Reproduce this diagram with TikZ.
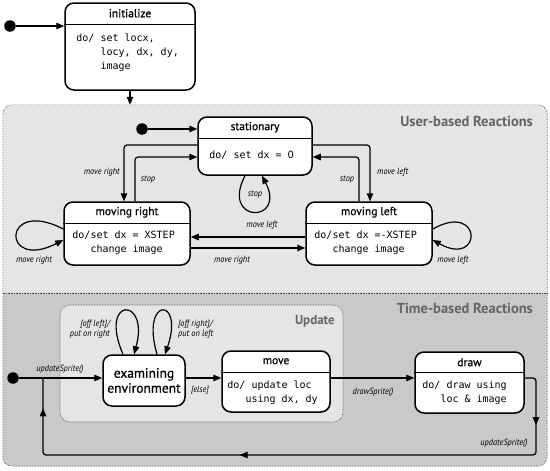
\documentclass[tikz,border=0pt]{standalone}
\usepackage{fontspec}
\setmainfont{PT Sans}
\setmonofont{DejaVu Sans Mono}
\newfontfamily\labelfont{PT Sans}[FakeStretch=0.92]
\newfontfamily\titlefont{PT Sans}[FakeBold=0.8]
\newfontfamily\zerofont{DejaVu Sans}
\usetikzlibrary{calc, positioning, arrows.meta, decorations.markings}
\definecolor{userbg}{RGB}{229,229,229}
\definecolor{timebg}{RGB}{201,201,201}
\definecolor{regiontext}{RGB}{100,100,100}

\begin{document}
\begin{tikzpicture}[x=1pt, y=-1pt,
  statebox/.style={draw, line width=1.5pt, rounded corners=9pt, fill=white, inner sep=0pt},
  stitle/.style={font=\titlefont\fontsize{11.5}{13}\selectfont, inner sep=0pt},
  sbody/.style={font=\ttfamily\fontsize{10}{14}\selectfont, align=left,
    inner sep=0pt, anchor=north west},
  lbl/.style={font=\labelfont\itshape\fontsize{9}{10.5}\selectfont, inner sep=0pt},
  regtitle/.style={font=\bfseries\fontsize{14.5}{16}\selectfont, text=regiontext,
    anchor=east, inner sep=0pt},
  arr/.style={-{Triangle[length=8pt,width=6.5pt]}, line width=1.2pt, rounded corners=3pt},
  divline/.style={line width=1.1pt},
  initdot/.style={circle, fill, inner sep=0pt, minimum size=11.5pt},
  regionline/.style={densely dotted, line width=0.6pt, black!75},
]
\useasboundingbox (0,0) rectangle (550,471);

% composite state with two regions
\node[inner sep=0pt, minimum width=544pt, minimum height=361pt] (comp) at (275,285.5) {};
\begin{scope}
  \clip[rounded corners=9pt] (comp.north west) rectangle (comp.south east);
  \fill[userbg] (comp.north west) rectangle (comp.east |- 0,293);
  \fill[timebg] (comp.west |- 0,293) rectangle (comp.south east);
\end{scope}
\draw[regionline, rounded corners=9pt] (comp.north west) rectangle (comp.south east);
\draw[regionline] (comp.west |- 0,293) -- (comp.east |- 0,293);
\node[regtitle] (userT) at (533,121) {User-based Reactions};
\node[regtitle] (timeT) at (533,308) {Time-based Reactions};

% update sub-state
\node[regionline, draw, fill=userbg, rounded corners=10pt, inner sep=0pt,
  minimum width=283pt, minimum height=117pt] (upd) at (201.5,363.5) {};
\node[regtitle, font=\bfseries\fontsize{13}{15}\selectfont] (updT) at (335,321) {Update};

% states
\node[statebox, minimum width=130pt, minimum height=87pt] (init) at (130,46.5) {};
\node[stitle] (initT) at ($(init.north)+(0,11)$) {initialize};
\draw[divline] ($(init.north west)+(0,22)$) -- ($(init.north east)+(0,22)$);
\node[sbody] (initB) at ($(init.north west)+(12,31)$)
  {do/ set locx,\\\hphantom{do/\ }locy, dx, dy,\\\hphantom{do/\ }image};

\node[statebox, minimum width=114pt, minimum height=58pt] (stat) at (255,146) {};
\node[stitle] (statT) at ($(stat.north)+(0,11)$) {stationary};
\draw[divline] ($(stat.north west)+(0,22)$) -- ($(stat.north east)+(0,22)$);
\node[sbody] (statB) at ($(stat.north west)+(12,34)$) {do/ set dx = {\zerofont 0}};

\node[statebox, minimum width=126pt, minimum height=63pt] (mright) at (127,233.5) {};
\node[stitle] (mrightT) at ($(mright.north)+(0,11)$) {moving right};
\draw[divline] ($(mright.north west)+(0,22)$) -- ($(mright.north east)+(0,22)$);
\node[sbody] (mrightB) at ($(mright.north west)+(9,29)$)
  {do/set dx = XSTEP\\\hphantom{do/}change image};

\node[statebox, minimum width=126pt, minimum height=63pt] (mleft) at (369,233.5) {};
\node[stitle] (mleftT) at ($(mleft.north)+(0,11)$) {moving left};
\draw[divline] ($(mleft.north west)+(0,22)$) -- ($(mleft.north east)+(0,22)$);
\node[sbody] (mleftB) at ($(mleft.north west)+(9,29)$)
  {do/set dx =-XSTEP\\\hphantom{do/}change image};

\node[statebox, minimum width=82pt, minimum height=51pt, align=center,
  font=\titlefont\fontsize{13.5}{15}\selectfont] (exam) at (144,380.5) {examining\\environment};

\node[statebox, minimum width=108pt, minimum height=61pt] (move) at (276,381.5) {};
\node[stitle] (moveT) at ($(move.north)+(0,11)$) {move};
\draw[divline] ($(move.north west)+(0,22)$) -- ($(move.north east)+(0,22)$);
\node[sbody] (moveB) at ($(move.north west)+(6,30)$)
  {do/ update loc\\\hphantom{do/}using dx, dy};

\node[statebox, minimum width=109pt, minimum height=61pt] (draw) at (469.5,382.5) {};
\node[stitle] (drawT) at ($(draw.north)+(0,11)$) {draw};
\draw[divline] ($(draw.north west)+(0,21)$) -- ($(draw.north east)+(0,21)$);
\node[sbody] (drawB) at ($(draw.north west)+(8,29)$)
  {do/ draw using\\\hphantom{do/}loc \& image};

% initial pseudo-states
\node[initdot] (dot0) at (10,26) {};
\node[initdot] (dot1) at (142,129) {};
\node[initdot] (dot2) at (13,378) {};
\coordinate (merge) at (43,378);
\coordinate (rb) at (536,455);

% transitions
\draw[arr] (dot0) -- (dot0 -| init.west);
\draw[arr] (init.south) -- (init.south |- comp.north);
\draw[arr] (dot1) -- (dot1 -| stat.west);

\draw[arr] (stat.west |- 0,145) -| ([xshift=-3pt]mright.north);
\draw[arr] ([xshift=8pt]mright.north) |- (stat.west |- 0,157);
\draw[arr] (stat.east |- 0,145) -| ([xshift=1pt]mleft.north);
\draw[arr] ([xshift=-10pt]mleft.north) |- (stat.east |- 0,157);
\draw[arr] ([xshift=-10pt]stat.south) .. controls +(-25,48) and +(25,48) .. ([xshift=7pt]stat.south);
\draw[arr] (mleft.west |- 0,237) -- (mright.east |- 0,237);
\draw[arr] (mright.east |- 0,248) -- (mleft.west |- 0,248);
\draw[arr] (mright.west |- 0,229) .. controls +(-62,-32) and +(-62,32) .. (mright.west |- 0,240);
\draw[arr] (mleft.east |- 0,229) .. controls +(50,-28) and +(50,28) .. (mleft.east |- 0,240);

\node[lbl, anchor=east] (lMR1) at (120,172) {move right};
\node[lbl] (lS1) at (148,180) {stop};
\node[lbl, anchor=west] (lML1) at (377,172) {move left};
\node[lbl] (lS2) at (347,180) {stop};
\node[lbl] (lS3) at (255,195) {stop};
\node[lbl] (lML2) at (262,225) {move left};
\node[lbl] (lMR2) at (232,260) {move right};
\node[lbl] (lMR3) at (34,260) {move right};
\node[lbl] (lML3) at (453,260) {move left};

\draw[arr] (dot2) -- (dot2 -| exam.west);
\draw[arr] ([xshift=-21pt]exam.north) .. controls +(-25,-58) and +(16,-58) .. ([xshift=-10pt]exam.north);
\draw[arr] ([xshift=13pt]exam.north) .. controls +(-17,-58) and +(20,-58) .. ([xshift=21pt]exam.north);
\draw[arr] (exam.east |- merge) -- (move.west |- merge);
\draw[arr] (move.east |- merge) -- (draw.west |- merge);
\draw[line width=1.2pt, rounded corners=3pt, postaction=decorate, decoration={markings,
    mark=at position 57pt with {\arrow{Triangle[length=8pt,width=6.5pt]}},
    mark=at position 382pt with {\arrow{Triangle[length=8pt,width=6.5pt]}},
    mark=at position 624pt with {\arrow{Triangle[length=8pt,width=6.5pt]}}}]
  (draw.east |- merge) -| (rb) -| (merge);

\node[lbl] (lUS1) at (60,369) {updateSprite()};
\node[lbl, anchor=east, align=right] (lOL) at (110,329) {[off left]/\\put on right};
\node[lbl, anchor=west, align=left] (lOR) at (178,329) {[off right]/\\put on left};
\node[lbl] (lElse) at (200,390) {[else]};
\node[lbl] (lDS) at (373,392) {drawSprite()};
\node[lbl] (lUS2) at (504,443) {updateSprite()};
\end{tikzpicture}
\end{document}
